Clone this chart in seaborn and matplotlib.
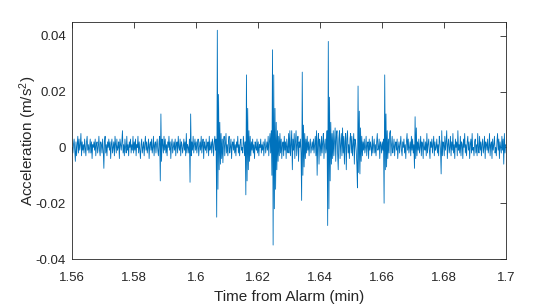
import numpy as np
import matplotlib
matplotlib.use("Agg")
import matplotlib.pyplot as plt
import seaborn as sns

# acceleration samples in units of 1e-3 m/s^2, one list per 0.01 min of record
seg0 = [0, -2, 1, 3, -1, -5, 2, -3, 1, 4,
        -2, 3, -1, 1, 5, -3, 2, -1, 1, -2,
        3, 0, -3, 2, 4, -1, 1, -2, 0, 3,
        -2, 2, -4, 1, 0, 2, -1, 3, -3, 1,
        2, -2, 0, 4, -1, -3, 2, 1, -2, 3]
seg1 = [-1, -7.5, 2, 4, -2, 1, -3, 2, 0, 3,
        -1, 2, -4, 1, 3, -2, 0, 2, -3, 4,
        1, -2, 3, -1, 0, 2, -4, 3, 1, -1,
        2, 6, -2, 1, -3, 3, 0, -2, 4, -1,
        1, -3, 2, 0, 3, -2, 1, -1, 4, -2]
seg2 = [2, -1, 3, -3, 1, 0, 4, -2, 2, -1,
        -4, 1, 3, -2, 0, 2, -3, 1, 4, -1,
        2, -2, 0, 3, -4, 1, 2, -1, 3, -2,
        0, 4, -3, 1, 2, -2, 1, 3, -1, -3,
        2, 4, -12, 12, -5, 3, 1, -2, 4, -1]
seg3 = [3, -2, 1, -3, 2, 0, 4, -1, 2, -4,
        1, 3, -2, 0, 2, -1, 3, -3, 1, 2,
        -2, 4, 0, -1, 3, -3, 2, 1, -2, 0,
        3, -1, 2, -3, 5, -2, 1, 0, -2, 3,
        -12.5, 12, -3, 2, -1, 4, -2, 1, 3, -1]
seg4 = [2, -2, 1, 3, -3, 0, 2, -1, 4, -2,
        1, 3, -4, 2, 0, -1, 3, -2, 1, 2,
        -3, 4, -1, 0, 2, -2, 3, 1, -3, 2,
        4, -1, 3, -25, 42, -15, 19, -8, 9, -6,
        5, -4, 3, -5.5, 2, 4, -3, 1, 5, -2]
seg5 = [1, -3, 2, 4, -2, 0, 3, -4, 1, 2,
        -1, 3, -2, 1, -3, 2, 0, 4, -2, 1,
        -3, 2, 3, -1, 0, -2, 4, 1, -3, 2,
        -17, 26, -12, 14, -8, 6, -5, 4, -3, 2,
        -1, 3, -2, 1, -4, 2, 0, -1, 3, -2]
seg6 = [2, -3, 1, 0, 3, -2, 1, -1, 2, -3,
        1, 3, -2, 0, 2, -1, 4, -3, 2, 5,
        -2, 6, -10, 35, -35, 26, -22, 14, -15, 9,
        -8, 6, -5, 4, -3, 5, -2, 3, -4, 1,
        2, -3, 4, -1, 2, -4, 3, 0, -2, 5]
seg7 = [-2, 6, -3, 1, 6, -8, 3, -1, 5, -4,
        2, 6, -3, 1, 4, -5, 2, 0, 3, -2,
        -19, 27, -10, 8, -7, 5, -4, 3, -2, 4,
        -1, 2, -3, 1, 3, -2, 0, 2, -1, 3,
        -2, 1, 4, -3, 6, -10, 2, 5, -6, 3]
seg8 = [1, -3, 4, -2, 2, 5, -4, 1, 3, -2,
        0, 6, -28, 38, -22, 18, -12, 9, -6, 5,
        -4, 6, -3, 2, 7, -5, 4, 6, -2, -8,
        3, 6, -4, 1, 5, -3, 7, -2, 4, -6,
        2, 5, -8, 3, 6, -2, 1, -4, 3, 5]
seg9 = [-2, 4, -3, 1, 5, -6, 3, 2, -1, -6,
        -14.5, 22, -9, 13, -9.5, 7, -5, 4, -3, 2,
        -1, 3, -2, 0, 4, -3, 1, 2, -4, 3,
        -1, 2, 0, -3, 4, -2, 1, 3, -2, 1,
        -3, 2, 5, -1, 0, 3, -4, 2, 1, -2]
seg10 = [2, -1, 3, -20, 26, -8, 12, -7, 6, -4,
         3, -2, 5, 6, -3, 1, 4, -2, 0, 3,
         -3, 1, 2, -1, 3, -4, 0, 2, -2, 1,
         4, -1, -3, 2, 0, 3, -2, 1, -4, 2,
         5, -1, 3, -2, 0, 2, -3, 4, -1, 3]
seg11 = [-2, 1, -7.5, 11, -4, 7, -3, 2, -1, 3,
         -2, 0, 4, -3, 2, 1, -4, 3, 0, -1,
         2, -3, 5, -2, 1, 3, -1, -4, 2, 0,
         3, -2, 1, 4, -3, 2, -1, 0, 3, -2,
         1, -3, 4, 2, -1, -9.5, 6, -3, 2, 1]
seg12 = [-3, 4, -1, 2, 6, -4, 1, 3, -2, 0,
         4, -3, 2, -1, 5, -2, 1, -4, 3, 0,
         2, -3, 6, -1, 1, -2, 4, -3, 2, 1,
         -4, 3, 0, 5, -2, 1, -3, 2, 4, -1,
         2, -4, 1, 3, -2, 5, -1, 0, -3, 2]
seg13 = [3, -2, 1, -3, 5, 0, -2, 4, -1, 2,
         -3, 1, 3, -2, 0, 4, -4, 2, 1, -1,
         3, -2, 0, 5, -3, 1, 2, -4, 3, -1,
         1, 4, -2, 0, -3, 2, 5, -1, 3, -4,
         2, 0, -2, 4, -1, 3, -6, 5, -2, 1]

segments = [seg0, seg1, seg2, seg3, seg4, seg5, seg6, seg7,
            seg8, seg9, seg10, seg11, seg12, seg13]
t_start = 1.56      # min
seg_len = 0.01      # min per segment

xticks = [1.56, 1.58, 1.60, 1.62, 1.64, 1.66, 1.68, 1.70]
xtick_labels = ["1.56", "1.58", "1.6", "1.62", "1.64", "1.66", "1.68", "1.7"]
yticks = [-0.04, -0.02, 0, 0.02, 0.04]
ytick_labels = ["-0.04", "-0.02", "0", "0.02", "0.04"]

# build time / acceleration arrays (uniform sampling inside each segment)
time, accel = [], []
for k, seg in enumerate(segments):
    n = len(seg)
    time.extend(t_start + seg_len * k + seg_len * np.arange(n) / n)
    accel.extend(np.array(seg) * 1e-3)
time = np.array(time)
accel = np.array(accel)

sns.set_style("white")
plt.rcParams.update({
    "font.family": ["Liberation Sans", "DejaVu Sans"],
    "mathtext.fontset": "custom",
    "mathtext.rm": "Liberation Sans",
    "mathtext.it": "Liberation Sans",
})

fig = plt.figure(figsize=(5.6, 3.04), dpi=100)
ax = fig.add_axes([0.129, 0.148, 0.775, 0.780])

sns.lineplot(x=time, y=accel, ax=ax, color="#0072BD", linewidth=0.6,
             estimator=None, sort=False)

ax.set_xlim(1.56, 1.70)
ax.set_ylim(-0.04, 0.045)
ax.set_xticks(xticks)
ax.set_xticklabels(xtick_labels)
ax.set_yticks(yticks)
ax.set_yticklabels(ytick_labels)

dark = "#262626"
ax.tick_params(direction="in", length=4, width=0.6, colors=dark,
               labelsize=9.5, top=True, right=True)
ax.tick_params(axis="x", pad=9)
ax.tick_params(axis="y", pad=4.5)
for s in ax.spines.values():
    s.set_color(dark)
    s.set_linewidth(0.6)

ax.set_xlabel("Time from Alarm (min)", fontsize=11, color=dark, labelpad=5)
ax.set_ylabel(r"Acceleration (m/s$^2$)", fontsize=11, color=dark)
ax.yaxis.set_label_coords(-0.076, 0.5)

fig.savefig("out.png", dpi=100)
